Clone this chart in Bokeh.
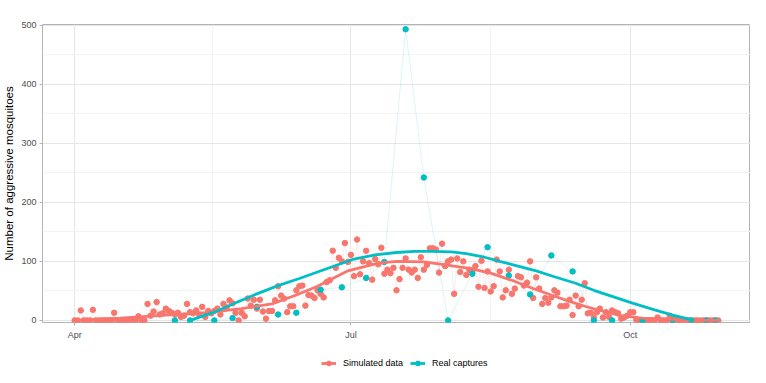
import pandas as pd
from bokeh.plotting import figure
from bokeh.layouts import column
from bokeh.models import (FixedTicker, DatetimeTickFormatter, Range1d, Legend,
                          LegendItem)
from bokeh.embed import file_html
from bokeh.resources import INLINE

START = "2017-04-01"

# Simulated data: one value per day from 1 April
sim_values = [
    0, 0, 17, 0, 0, 0, 18, 0, 0, 0,
    0, 0, 0, 13, 0, 0, 0, 0, 0, 2,
    0, 7, 0, 0, 28, 8, 15, 31, 10, 12,
    20, 16, 13, 10, 13, 6, 8, 28, 14, 12,
    17, 10, 23, 6, 16, 12, 16, 20, 10, 28,
    22, 34, 29, 13, 0, 13, 7, 37, 25, 35,
    20, 35, 15, 3, 16, 16, 34, 58, 42, 37,
    14, 24, 24, 51, 58, 59, 25, 43, 42, 38,
    51, 45, 39, 65, 68, 118, 89, 106, 100, 131,
    99, 111, 75, 137, 78, 100, 118, 97, 69, 104,
    95, 123, 79, 86, 80, 89, 51, 70, 89, 105,
    86, 81, 86, 72, 107, 86, 94, 122, 122, 120,
    81, 130, 92, 100, 103, 45, 105, 82, 100, 77,
    86, 85, 92, 57, 101, 55, 83, 49, 58, 103,
    83, 39, 51, 86, 45, 54, 75, 73, 59, 64,
    100, 38, 73, 54, 28, 38, 30, 39, 51, 47,
    24, 24, 25, 35, 9, 42, 24, 35, 63, 12,
    13, 5, 14, 20, 5, 14, 6, 17, 14, 12,
    3, 5, 8, 14, 14, 1, 0, 0, 0, 0,
    0, 0, 5, 0, 0, 0, 8, 0, 4, 0,
    0, 0, 0, 0, 0, 0, 0, 0, 0, 0,
    0, 0, 0,
]

# Real captures (day offset from 1 April, count)
real_days = [33, 38, 46, 52, 60, 67, 73, 81, 88, 96, 102, 109, 115, 123, 131,
             136, 143, 150, 157, 164, 171, 177, 187, 197, 203, 208, 211]
real_values = [0, 0, 0, 4, 23, 10, 13, 52, 56, 72, 99, 493, 242, 0, 79,
               124, 76, 44, 110, 83, 0, 0, 0, 0, 0, 0, 0]

# Smoothed trends
sim_smooth_days = [0, 15, 30, 43, 55, 65, 73, 80, 90, 100, 106, 115, 121, 130,
                   137, 145, 151, 157, 162, 168, 173, 180, 187, 195, 205, 212]
sim_smooth_values = [0, 4, 9, 13, 20, 28, 43, 58, 84, 97, 100, 99, 95, 88,
                     80, 66, 54, 43, 34, 24, 17, 8, 4, 2, 0.5, 0]
real_smooth_days = [38, 46, 54, 60, 67, 74, 80, 86, 92, 99, 106, 112, 118, 124,
                    129, 135, 140, 146, 152, 158, 165, 171, 178, 184, 191, 197, 204]
real_smooth_values = [0, 14, 32, 45, 59, 71, 82, 93, 104, 111, 115, 117, 117, 116,
                      113, 107, 100, 92, 84, 74, 63, 51, 39, 29, 18, 9, 0]

y_ticks = [0, 100, 200, 300, 400, 500]
y_minor = [50, 150, 250, 350, 450]
series_labels = ["Simulated data", "Real captures"]

RED = "#F8766D"
TEAL = "#00BFC4"
FONT = "Liberation Sans"
SMOOTH_W = 2.8
PT_SIZE = 5.5

start = pd.Timestamp(START)
day = pd.Timedelta(days=1)
sim_dates = [start + i * day for i in range(len(sim_values))]
real_dates = [start + d * day for d in real_days]
sim_smooth_dates = [start + d * day for d in sim_smooth_days]
real_smooth_dates = [start + d * day for d in real_smooth_days]

def ms(ts):
    return ts.value / 1e6

x_major = [ms(pd.Timestamp(s)) for s in ["2017-04-01", "2017-07-01", "2017-10-01"]]
x_minor = [ms(pd.Timestamp("2017-05-16 12:00")), ms(pd.Timestamp("2017-08-16"))]

span = len(sim_values) - 1
pad = span * 0.05
x_rng = Range1d(start - pad * day, start + (span + pad) * day)
p = figure(width=750, height=342, x_axis_type="datetime",
           x_range=x_rng, y_range=Range1d(-3.5, 501),
           output_backend="svg", toolbar_location=None,
           min_border_left=33, min_border_right=0, min_border_top=24,
           min_border_bottom=18)
p.background_fill_color = "white"
p.border_fill_color = "white"
p.outline_line_color = "#B3B3B3"
p.outline_line_width = 1

p.xaxis.ticker = FixedTicker(ticks=x_major, minor_ticks=x_minor)
p.xaxis.formatter = DatetimeTickFormatter(months="%b", days="%b", years="%b",
                                          hours="%b", hourmin="%b")
p.yaxis.ticker = FixedTicker(ticks=y_ticks, minor_ticks=y_minor)

for ax in (p.xaxis[0], p.yaxis[0]):
    ax.axis_line_color = None
    ax.major_tick_line_color = "#B3B3B3"
    ax.major_tick_out = 3
    ax.major_tick_in = 0
    ax.minor_tick_line_color = None
    ax.major_label_text_font = FONT
    ax.major_label_text_font_size = "9px"
    ax.major_label_text_color = "#4D4D4D"
    ax.axis_label_text_font = FONT
    ax.axis_label_text_font_style = "normal"
    ax.axis_label_text_font_size = "11.5px"
    ax.axis_label_text_color = "black"
p.yaxis.axis_label = "Number of aggressive mosquitoes"
p.yaxis.major_label_standoff = 2
p.yaxis.axis_label_standoff = 3
p.xaxis.major_label_standoff = 3

for g in (p.xgrid[0], p.ygrid[0]):
    g.grid_line_color = "#E6E6E6"
    g.grid_line_width = 1
    g.minor_grid_line_color = "#F3F3F3"
    g.minor_grid_line_width = 1

p.line(sim_dates, sim_values, color=RED, alpha=0.25, line_width=0.6)
p.line(real_dates, real_values, color=TEAL, alpha=0.25, line_width=0.6)
p.scatter(sim_dates, sim_values, color=RED, size=PT_SIZE)
p.scatter(real_dates, real_values, color=TEAL, size=PT_SIZE)
p.line(sim_smooth_dates, sim_smooth_values, color=RED, line_width=SMOOTH_W)
p.line(real_smooth_dates, real_smooth_values, color=TEAL, line_width=SMOOTH_W)

# Legend strip below the chart: the same series are drawn into it, but its
# y range lies above all data, so only the legend keys are visible.
leg = figure(width=750, height=41, x_axis_type="datetime", x_range=x_rng,
             y_range=Range1d(600, 700),
             output_backend="svg", toolbar_location=None,
             x_axis_location=None, y_axis_location=None,
             min_border_left=0, min_border_right=0, min_border_top=0,
             min_border_bottom=0)
leg.outline_line_color = None
leg.xgrid.visible = False
leg.ygrid.visible = False
items = []
for label, colr, xs, ys, sx, sy in zip(
        series_labels, [RED, TEAL],
        [sim_dates, real_dates], [sim_values, real_values],
        [sim_smooth_dates, real_smooth_dates], [sim_smooth_values, real_smooth_values]):
    ln = leg.line(sx, sy, color=colr, line_width=SMOOTH_W)
    pt = leg.scatter(xs, ys, color=colr, size=PT_SIZE)
    items.append(LegendItem(label=label, renderers=[ln, pt]))
legend = Legend(items=items, orientation="horizontal", location=(279, 14),
                glyph_width=15, glyph_height=12, label_height=12,
                label_standoff=7, spacing=7, padding=0, margin=0,
                label_text_font=FONT, label_text_font_size="9px",
                label_text_color="black",
                border_line_color=None, background_fill_alpha=0)
leg.add_layout(legend, "center")

open("out.html", "w").write(file_html(column(p, leg), INLINE))
